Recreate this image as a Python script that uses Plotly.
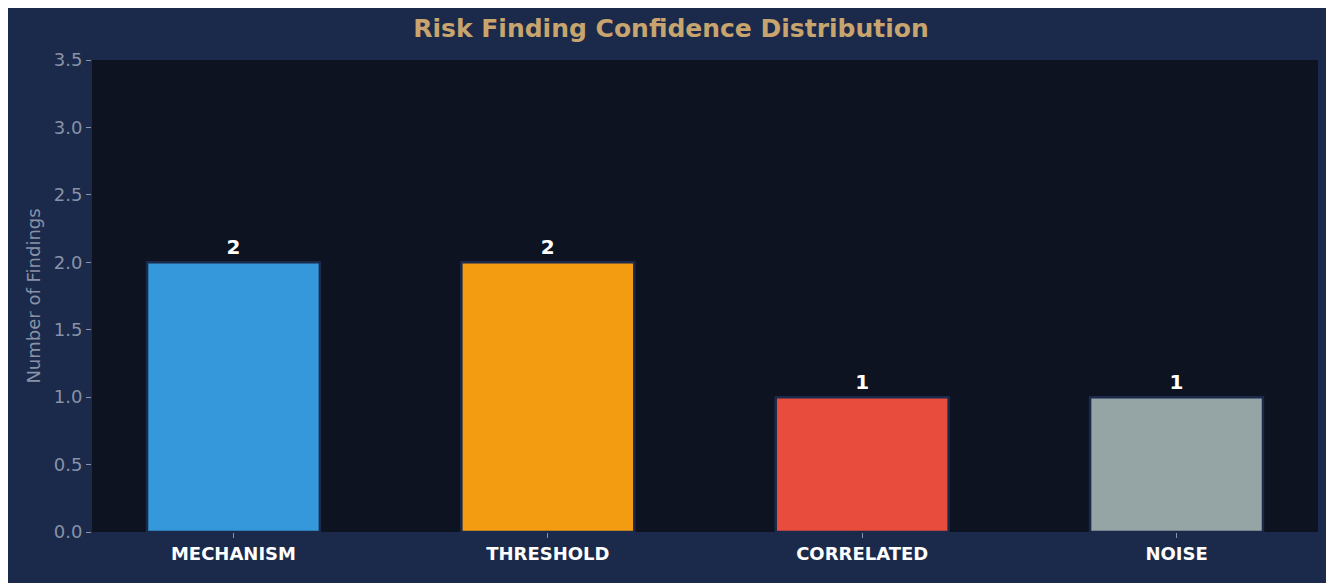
import plotly.graph_objects as go

categories = ["MECHANISM", "THRESHOLD", "CORRELATED", "NOISE"]
counts = [2, 2, 1, 1]
colors = ["#3498db", "#f39c12", "#e74c3c", "#95a5a6"]

fig = go.Figure(go.Bar(
    x=list(range(len(categories))), y=counts, width=0.55,
    marker=dict(color=colors, line=dict(color="#1b2a4a", width=2.5)),
    text=["<b>%d</b>" % c for c in counts], textposition="outside",
    textfont=dict(color="white", size=20, family="DejaVu Sans"),
    cliponaxis=False,
))

fig.update_layout(
    width=1326, height=575,
    paper_bgcolor="#1b2a4a", plot_bgcolor="#0d1321",
    margin=dict(l=84, r=16, t=52, b=51),
    title=dict(text="<b>Risk Finding Confidence Distribution</b>", x=0.5, y=0.965,
               xanchor="center", yanchor="middle",
               font=dict(color="#c8a46e", size=25, family="DejaVu Sans")),
    font=dict(family="DejaVu Sans"),
    showlegend=False,
)
fig.update_xaxes(
    tickvals=list(range(len(categories))),
    ticktext=["<b>%s</b>" % c for c in categories],
    range=[-0.45, 3.45], showgrid=False, zeroline=False,
    ticks="outside", ticklen=5, tickcolor="#8892a8",
    tickfont=dict(color="white", size=18),
)
fig.update_yaxes(
    range=[0, 3.5], dtick=0.5, tickformat=".1f", showgrid=False, zeroline=False,
    ticks="outside", ticklen=5, tickcolor="#8892a8",
    tickfont=dict(color="#8892a8", size=18),
    title=dict(text="Number of Findings", font=dict(color="#8892a8", size=18), standoff=8),
)

fig.write_html("out.html")
